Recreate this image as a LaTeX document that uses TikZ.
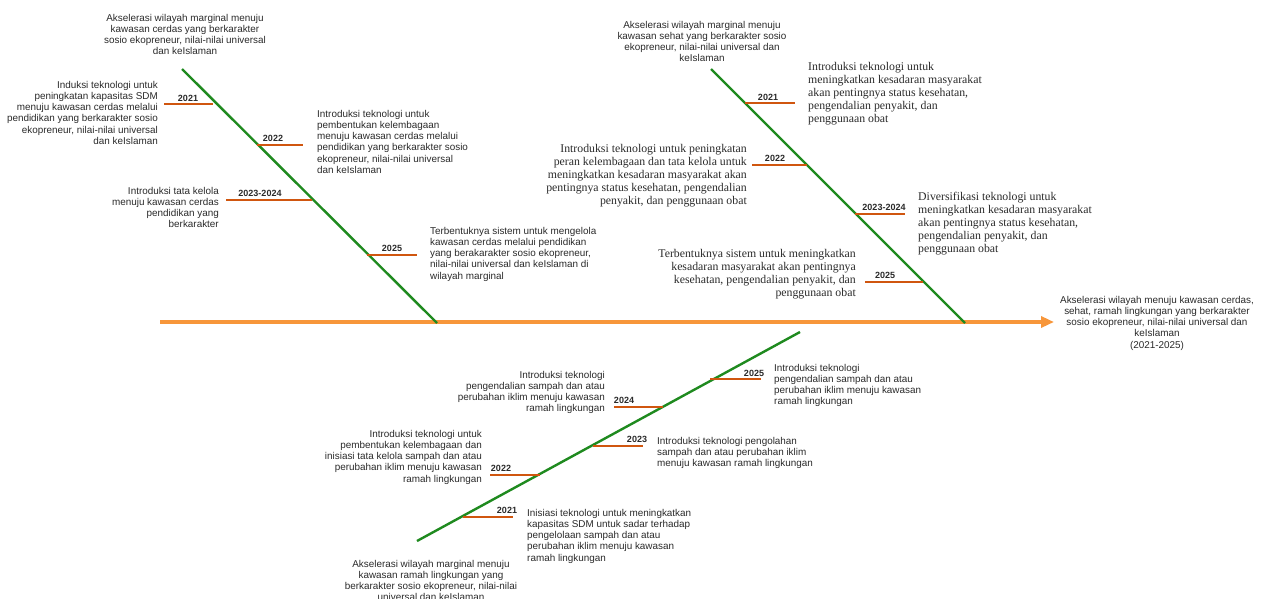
\documentclass[tikz,border=0pt]{standalone}
\usepackage{fontspec}
\newfontfamily\sansf{Liberation Sans}
\newfontfamily\seriff{Liberation Serif}
\usetikzlibrary{arrows.meta}
\definecolor{spine}{HTML}{F7963A}
\definecolor{bonegreen}{HTML}{1F8A1F}
\definecolor{tick}{HTML}{D0560F}
\definecolor{txt}{HTML}{2A2A2A}
\tikzset{
  mainline/.style={draw=spine,line width=3.2pt,-{Triangle[length=13pt,width=11pt]}},
  greenline/.style={draw=bonegreen,line width=2.4pt},
  tickline/.style={draw=tick,line width=2.6pt},
  stxt/.style={inner sep=0pt,text=txt,font=\sansf\fontsize{9.9}{11.2}\selectfont},
  rtxt/.style={inner sep=0pt,text=txt,font=\seriff\fontsize{11.8}{13.1}\selectfont},
  yr/.style={inner sep=0pt,anchor=base,text=txt,font=\sansf\bfseries\fontsize{9}{10}\selectfont},
}
\begin{document}
\begin{tikzpicture}[x=1pt,y=-1pt]
\useasboundingbox (0,0) rectangle (1266,598);
% main spine
\coordinate (ms) at (160,322);
\coordinate (me) at (1054,322);
\draw[mainline] (ms) -- (me);
% green diagonals
\coordinate (la) at (182,69);  \coordinate (lb) at (437,323);
\coordinate (ra) at (711,69);  \coordinate (rb) at (965,323);
\coordinate (ba) at (417,541); \coordinate (bb) at (800,332);
\draw[greenline] (la) -- (lb);
\draw[greenline] (ra) -- (rb);
\draw[greenline] (ba) -- (bb);
% ticks left
\coordinate (l1a) at (164,104); \coordinate (l1b) at (213,104);
\coordinate (l2a) at (257,145); \coordinate (l2b) at (303,145);
\coordinate (l3a) at (226,200); \coordinate (l3b) at (312,200);
\coordinate (l4a) at (367,255); \coordinate (l4b) at (417,255);
% ticks right
\coordinate (r1a) at (745,103); \coordinate (r1b) at (795,103);
\coordinate (r2a) at (752,165); \coordinate (r2b) at (807,165);
\coordinate (r3a) at (855,214); \coordinate (r3b) at (905,214);
\coordinate (r4a) at (865,282); \coordinate (r4b) at (923,282);
% ticks bottom
\coordinate (b5a) at (710,379); \coordinate (b5b) at (761,379);
\coordinate (b4a) at (614,407); \coordinate (b4b) at (663,407);
\coordinate (b3a) at (593,446); \coordinate (b3b) at (643,446);
\coordinate (b2a) at (490,475); \coordinate (b2b) at (540,475);
\coordinate (b1a) at (463,517); \coordinate (b1b) at (513,517);
\foreach \t in {l1,l2,l3,l4,r1,r2,r3,r4,b5,b4,b3,b2,b1}{\draw[tickline] (\t a) -- (\t b);}
% year labels
\node[yr] (yl1) at (188,101) {2021};
\node[yr] (yl2) at (273,141) {2022};
\node[yr] (yl3) at (260,196) {2023-2024};
\node[yr] (yl4) at (392,251) {2025};
\node[yr] (yr1) at (768,100) {2021};
\node[yr] (yr2) at (775,161) {2022};
\node[yr] (yr3) at (884,210) {2023-2024};
\node[yr] (yr4) at (885,278) {2025};
\node[yr] (yb5) at (754,376) {2025};
\node[yr] (yb4) at (624,403) {2024};
\node[yr] (yb3) at (637,442) {2023};
\node[yr] (yb2) at (501,471) {2022};
\node[yr] (yb1) at (507,513) {2021};
% left group texts
\node[stxt,align=center,anchor=north] (lt) at (185,14) {Akselerasi wilayah marginal menuju\\kawasan cerdas yang berkarakter\\sosio ekopreneur, nilai-nilai universal\\dan keIslaman};
\node[stxt,align=right,anchor=north east] (lx1) at (158,81) {Induksi teknologi untuk\\peningkatan kapasitas SDM\\menuju kawasan cerdas melalui\\pendidikan yang berkarakter sosio\\ekopreneur, nilai-nilai universal\\dan keIslaman};
\node[stxt,align=left,anchor=north west] (lx2) at (317,110) {Introduksi teknologi untuk\\pembentukan kelembagaan\\menuju kawasan cerdas melalui\\pendidikan yang berkarakter sosio\\ekopreneur, nilai-nilai universal\\dan keIslaman};
\node[stxt,align=right,anchor=north east] (lx3) at (219,187) {Introduksi tata kelola\\menuju kawasan cerdas\\pendidikan yang\\berkarakter};
\node[stxt,align=left,anchor=north west] (lx4) at (430,227) {Terbentuknya sistem untuk mengelola\\kawasan cerdas melalui pendidikan\\yang berakarakter sosio ekopreneur,\\nilai-nilai universal dan keIslaman di\\wilayah marginal};
% right group texts
\node[stxt,align=center,anchor=north] (rt) at (702,21) {Akselerasi wilayah marginal menuju\\kawasan sehat yang berkarakter sosio\\ekopreneur, nilai-nilai universal dan\\keIslaman};
\node[rtxt,align=left,anchor=north west] (rx1) at (808,62) {Introduksi teknologi untuk\\meningkatkan kesadaran masyarakat\\akan pentingnya status kesehatan,\\pengendalian penyakit, dan\\penggunaan obat};
\node[rtxt,align=right,anchor=north east] (rx2) at (747,144) {Introduksi teknologi untuk peningkatan\\peran kelembagaan dan tata kelola untuk\\meningkatkan kesadaran masyarakat akan\\pentingnya status kesehatan, pengendalian\\penyakit, dan penggunaan obat};
\node[rtxt,align=left,anchor=north west] (rx3) at (918,192) {Diversifikasi teknologi untuk\\meningkatkan kesadaran masyarakat\\akan pentingnya status kesehatan,\\pengendalian penyakit, dan\\penggunaan obat};
\node[rtxt,align=right,anchor=north east] (rx4) at (856,249) {Terbentuknya sistem untuk meningkatkan\\kesadaran masyarakat akan pentingnya\\kesehatan, pengendalian penyakit, dan\\penggunaan obat};
% final goal
\node[stxt,align=center,anchor=north] (goal) at (1157,296) {Akselerasi wilayah menuju kawasan cerdas,\\sehat, ramah lingkungan yang berkarakter\\sosio ekopreneur, nilai-nilai universal dan\\keIslaman\\(2021-2025)};
% bottom group texts
\node[stxt,align=left,anchor=north west] (bx5) at (774,364) {Introduksi teknologi\\pengendalian sampah dan atau\\perubahan iklim menuju kawasan\\ramah lingkungan};
\node[stxt,align=right,anchor=north east] (bx4) at (605,371) {Introduksi teknologi\\pengendalian sampah dan atau\\perubahan iklim menuju kawasan\\ramah lingkungan};
\node[stxt,align=left,anchor=north west] (bx3) at (657,437) {Introduksi teknologi pengolahan\\sampah dan atau perubahan iklim\\menuju kawasan ramah lingkungan};
\node[stxt,align=right,anchor=north east] (bx2) at (482,430) {Introduksi teknologi untuk\\pembentukan kelembagaan dan\\inisiasi tata kelola sampah dan atau\\perubahan iklim menuju kawasan\\ramah lingkungan};
\node[stxt,align=left,anchor=north west] (bx1) at (527,509) {Inisiasi teknologi untuk meningkatkan\\kapasitas SDM untuk sadar terhadap\\pengelolaan sampah dan atau\\perubahan iklim menuju kawasan\\ramah lingkungan};
\node[stxt,align=center,anchor=north] (bt) at (431,560) {Akselerasi wilayah marginal menuju\\kawasan ramah lingkungan yang\\berkarakter sosio ekopreneur, nilai-nilai\\universal dan keIslaman};
\end{tikzpicture}
\end{document}
